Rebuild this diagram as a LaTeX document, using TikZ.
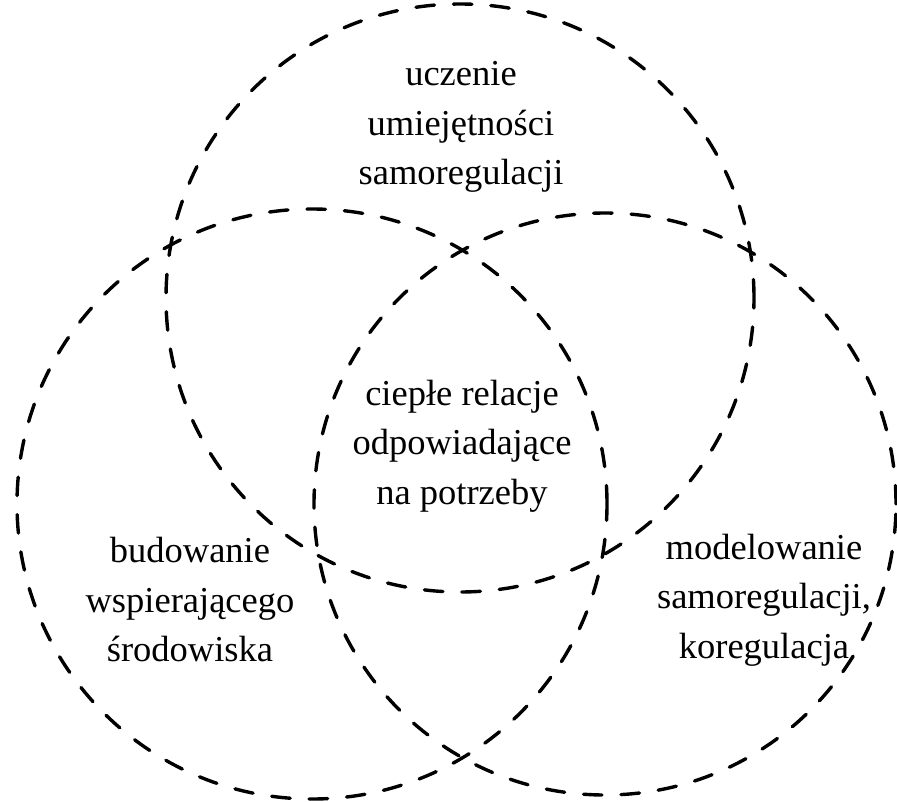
\documentclass[tikz,border=0pt]{standalone}
\usepackage{fontspec}
\setmainfont{Liberation Serif}
\newfontfamily\tnr{Liberation Serif}
\begin{document}
\begin{tikzpicture}[x=1pt,y=-1pt,
  ring/.style={draw=black, line width=3.4pt, line cap=round, dash pattern=on 18.5pt off 19pt},
  lbl/.style={align=center, font=\tnr\fontsize{36.5}{49.5}\selectfont, inner sep=0pt}]
\useasboundingbox (0,0) rectangle (897,801);
\coordinate (ct) at (460,298);
\coordinate (cl) at (312,504);
\coordinate (cr) at (605,504);
\draw[ring] (ct) circle (294pt);
\draw[ring] (cl) circle (295pt);
\draw[ring] (cr) circle (291pt);
\node[lbl] (top) at (461,127) {uczenie\\umiejętności\\samoregulacji};
\node[lbl] (mid) at (462,446) {ciepłe relacje\\odpowiadające\\na potrzeby};
\node[lbl] (left) at (190,600) {budowanie\\wspierającego\\środowiska};
\node[lbl] (right) at (764,600) {modelowanie\\samoregulacji,\\koregulacja};
\end{tikzpicture}
\end{document}
